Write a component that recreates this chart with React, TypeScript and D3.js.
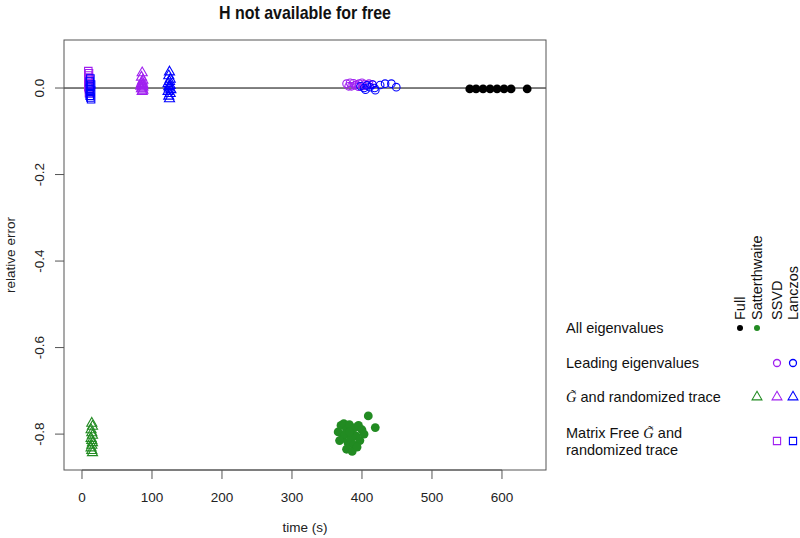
import React from "react";
import * as d3 from "d3";

// ---------- data ----------
const title = "H not available for free";
const xLabel = "time (s)";
const yLabel = "relative error";
const xTicks = [0, 100, 200, 300, 400, 500, 600];
const yTicks = [-0.8, -0.6, -0.4, -0.2, 0.0];
const yTickLabels = ["-0.8", "-0.6", "-0.4", "-0.2", "0.0"];

const methodNames = ["Full", "Satterthwaite", "SSVD", "Lanczos"];
const methodColors = ["#000000", "#228B22", "#A020F0", "#0000FF"];

// Full, all eigenvalues (filled dots)
const fullAllX = [554, 563, 573, 583, 593, 603, 613, 636];
const fullAllY = [-0.002, -0.002, -0.002, -0.002, -0.002, -0.002, -0.002, -0.002];

// Satterthwaite, all eigenvalues (filled dots)
const sattAllX = [366, 370, 374, 378, 382, 386, 390, 395, 400, 409, 419, 372, 376, 380, 384, 388, 392, 397, 378, 386, 393, 403, 368, 382];
const sattAllY = [-0.795, -0.78, -0.776, -0.79, -0.778, -0.8, -0.785, -0.78, -0.79, -0.758, -0.785, -0.81, -0.8, -0.82, -0.812, -0.825, -0.805, -0.815, -0.835, -0.84, -0.83, -0.8, -0.815, -0.795];

// SSVD, leading eigenvalues (open circles)
const ssvdLeadX = [378, 383, 388, 392, 396, 400, 404, 408, 385, 395, 402, 410, 390, 415, 381];
const ssvdLeadY = [0.01, 0.012, 0.011, 0.008, 0.01, 0.012, 0.009, 0.007, 0.004, 0.003, 0.005, 0.01, 0.006, 0.008, 0.004];

// Lanczos, leading eigenvalues (open circles)
const lancLeadX = [398, 403, 407, 411, 415, 419, 426, 433, 442, 449, 405, 418];
const lancLeadY = [0.004, 0.0, 0.006, 0.002, 0.008, -0.005, 0.007, 0.01, 0.01, 0.002, -0.004, 0.0];

// G-tilde and randomized trace (triangles)
const sattTriX = [14, 15, 13, 14, 15, 13, 14, 15, 14, 13, 14, 15];
const sattTriY = [-0.775, -0.782, -0.79, -0.797, -0.803, -0.81, -0.815, -0.82, -0.826, -0.832, -0.838, -0.843];
const ssvdTriX = [86, 85, 87, 86, 85, 87, 86, 84, 87, 86, 85, 87, 86];
const ssvdTriY = [0.035, 0.025, 0.018, 0.014, 0.01, 0.008, 0.006, 0.004, 0.002, 0.0, -0.002, -0.005, -0.008];
const lancTriX = [125, 124, 126, 125, 123, 126, 124, 125, 127, 123, 126, 124, 125];
const lancTriY = [0.037, 0.028, 0.02, 0.015, 0.01, 0.006, 0.003, 0.0, -0.004, -0.008, -0.013, -0.019, -0.025];

// Matrix free G-tilde and randomized trace (squares)
const ssvdSqX = [9, 10, 9, 10, 11, 9, 10, 11, 9, 10, 11, 10];
const ssvdSqY = [0.039, 0.034, 0.029, 0.024, 0.019, 0.015, 0.01, 0.006, 0.002, -0.003, -0.008, -0.012];
const lancSqX = [12, 11, 13, 12, 11, 13, 12, 11, 12, 13];
const lancSqY = [0.022, 0.015, 0.008, 0.003, -0.002, -0.006, -0.012, -0.018, -0.022, -0.026];

// ---------- layout ----------
const W = 800;
const H = 538;
const L = 64, R = 546, T = 40, B = 470;

export default function App() {
  const x = d3.scaleLinear().domain([-25.7, 662.9]).range([L, R]);
  const y = d3.scaleLinear().domain([-0.883, 0.111]).range([B, T]);

  const tri = d3.symbol().type(d3.symbolTriangle).size(44)() as string;
  const sq = d3.symbol().type(d3.symbolSquare).size(56)() as string;
  const triLeg = d3.symbol().type(d3.symbolTriangle).size(42)() as string;
  const sqLeg = d3.symbol().type(d3.symbolSquare).size(52)() as string;

  const dots = (xs: number[], ys: number[], col: string, key: string) =>
    xs.map((v, i) => <circle key={key + i} cx={x(v)} cy={y(ys[i])} r={4.4} fill={col} />);
  const circles = (xs: number[], ys: number[], col: string, key: string) =>
    xs.map((v, i) => <circle key={key + i} cx={x(v)} cy={y(ys[i])} r={3.8} fill="none" stroke={col} strokeWidth={1.1} />);
  const shapes = (xs: number[], ys: number[], col: string, d: string, key: string) =>
    xs.map((v, i) => (
      <path key={key + i} d={d} transform={`translate(${x(v)},${y(ys[i])})`} fill="none" stroke={col} strokeWidth={1.1} />
    ));

  const font = "'Liberation Sans', Arial, Helvetica, sans-serif";
  const axisCol = "#555";

  // legend geometry
  const colX = [740, 757, 777, 793];
  const rowY = [328, 363, 397, 441];

  return (
    <svg width={W} height={H} style={{ position: "absolute", left: 0, top: 0, background: "#fff" }} fontFamily={font}>
      <rect x={0} y={0} width={W} height={H} fill="#fff" />
      {/* title */}
      <text x={(L + R) / 2} y={19} textAnchor="middle" fontWeight="bold" fontSize={19} textLength={172} lengthAdjust="spacingAndGlyphs" fill="#111">
        {title}
      </text>

      {/* zero line */}
      <line x1={L} x2={R} y1={y(0)} y2={y(0)} stroke="#000" strokeWidth={1} />

      {/* points */}
      {dots(fullAllX, fullAllY, methodColors[0], "fa")}
      {dots(sattAllX, sattAllY, methodColors[1], "sa")}
      {circles(ssvdLeadX, ssvdLeadY, methodColors[2], "sl")}
      {circles(lancLeadX, lancLeadY, methodColors[3], "ll")}
      {shapes(sattTriX, sattTriY, methodColors[1], tri, "st")}
      {shapes(ssvdTriX, ssvdTriY, methodColors[2], tri, "vt")}
      {shapes(lancTriX, lancTriY, methodColors[3], tri, "lt")}
      {shapes(ssvdSqX, ssvdSqY, methodColors[2], sq, "vs")}
      {shapes(lancSqX, lancSqY, methodColors[3], sq, "ls")}

      {/* box */}
      <rect x={L} y={T} width={R - L} height={B - T} fill="none" stroke={axisCol} strokeWidth={1} />

      {/* x axis */}
      <line x1={x(xTicks[0])} x2={x(xTicks[xTicks.length - 1])} y1={B} y2={B} stroke={axisCol} />
      {xTicks.map((t) => (
        <g key={"xt" + t}>
          <line x1={x(t)} x2={x(t)} y1={B} y2={B + 9} stroke={axisCol} />
          <text x={x(t)} y={502} textAnchor="middle" fontSize={13.5} fill="#222">
            {t}
          </text>
        </g>
      ))}
      <text x={(L + R) / 2} y={532} textAnchor="middle" fontSize={13.5} fill="#222">
        {xLabel}
      </text>

      {/* y axis */}
      {yTicks.map((t, i) => (
        <g key={"yt" + t}>
          <line x1={L - 9} x2={L} y1={y(t)} y2={y(t)} stroke={axisCol} />
          <text transform={`translate(39,${y(t)}) rotate(-90)`} textAnchor="middle" dy="0.36em" fontSize={13.5} fill="#222">
            {yTickLabels[i]}
          </text>
        </g>
      ))}
      <text transform={`translate(10,${(T + B) / 2}) rotate(-90)`} textAnchor="middle" dy="0.36em" fontSize={13.5} fill="#222">
        {yLabel}
      </text>

      {/* legend column headers */}
      {methodNames.map((n, i) => (
        <text key={"mh" + n} transform={`translate(${colX[i] + 5},320) rotate(-90)`} textAnchor="start" fontSize={14.5} fill="#111">
          {n}
        </text>
      ))}

      {/* legend rows */}
      <text x={566} y={rowY[0] + 5} fontSize={14.5} fill="#111">All eigenvalues</text>
      <text x={566} y={rowY[1] + 5} fontSize={14.5} fill="#111">Leading eigenvalues</text>
      <text x={566} y={rowY[2] + 5} fontSize={14.5} fill="#111">
        <tspan fontFamily="'Liberation Serif', 'Times New Roman', serif" fontStyle="italic">G̃</tspan>
        <tspan> and randomized trace</tspan>
      </text>
      <text x={566} y={433 + 5} fontSize={14.5} fill="#111">
        <tspan>Matrix Free </tspan>
        <tspan fontFamily="'Liberation Serif', 'Times New Roman', serif" fontStyle="italic">G̃</tspan>
        <tspan> and</tspan>
      </text>
      <text x={566} y={450 + 5} fontSize={14.5} fill="#111">randomized trace</text>

      {/* legend markers */}
      <circle cx={colX[0]} cy={rowY[0]} r={3} fill={methodColors[0]} />
      <circle cx={colX[1]} cy={rowY[0]} r={3} fill={methodColors[1]} />
      <circle cx={colX[2]} cy={rowY[1]} r={3.5} fill="none" stroke={methodColors[2]} strokeWidth={1.3} />
      <circle cx={colX[3]} cy={rowY[1]} r={3.5} fill="none" stroke={methodColors[3]} strokeWidth={1.3} />
      {[1, 2, 3].map((c) => (
        <path key={"lt" + c} d={triLeg} transform={`translate(${colX[c]},${rowY[2]})`} fill="none" stroke={methodColors[c]} strokeWidth={1.1} />
      ))}
      {[2, 3].map((c) => (
        <path key={"ls" + c} d={sqLeg} transform={`translate(${colX[c]},${rowY[3]})`} fill="none" stroke={methodColors[c]} strokeWidth={1.1} />
      ))}
    </svg>
  );
}
